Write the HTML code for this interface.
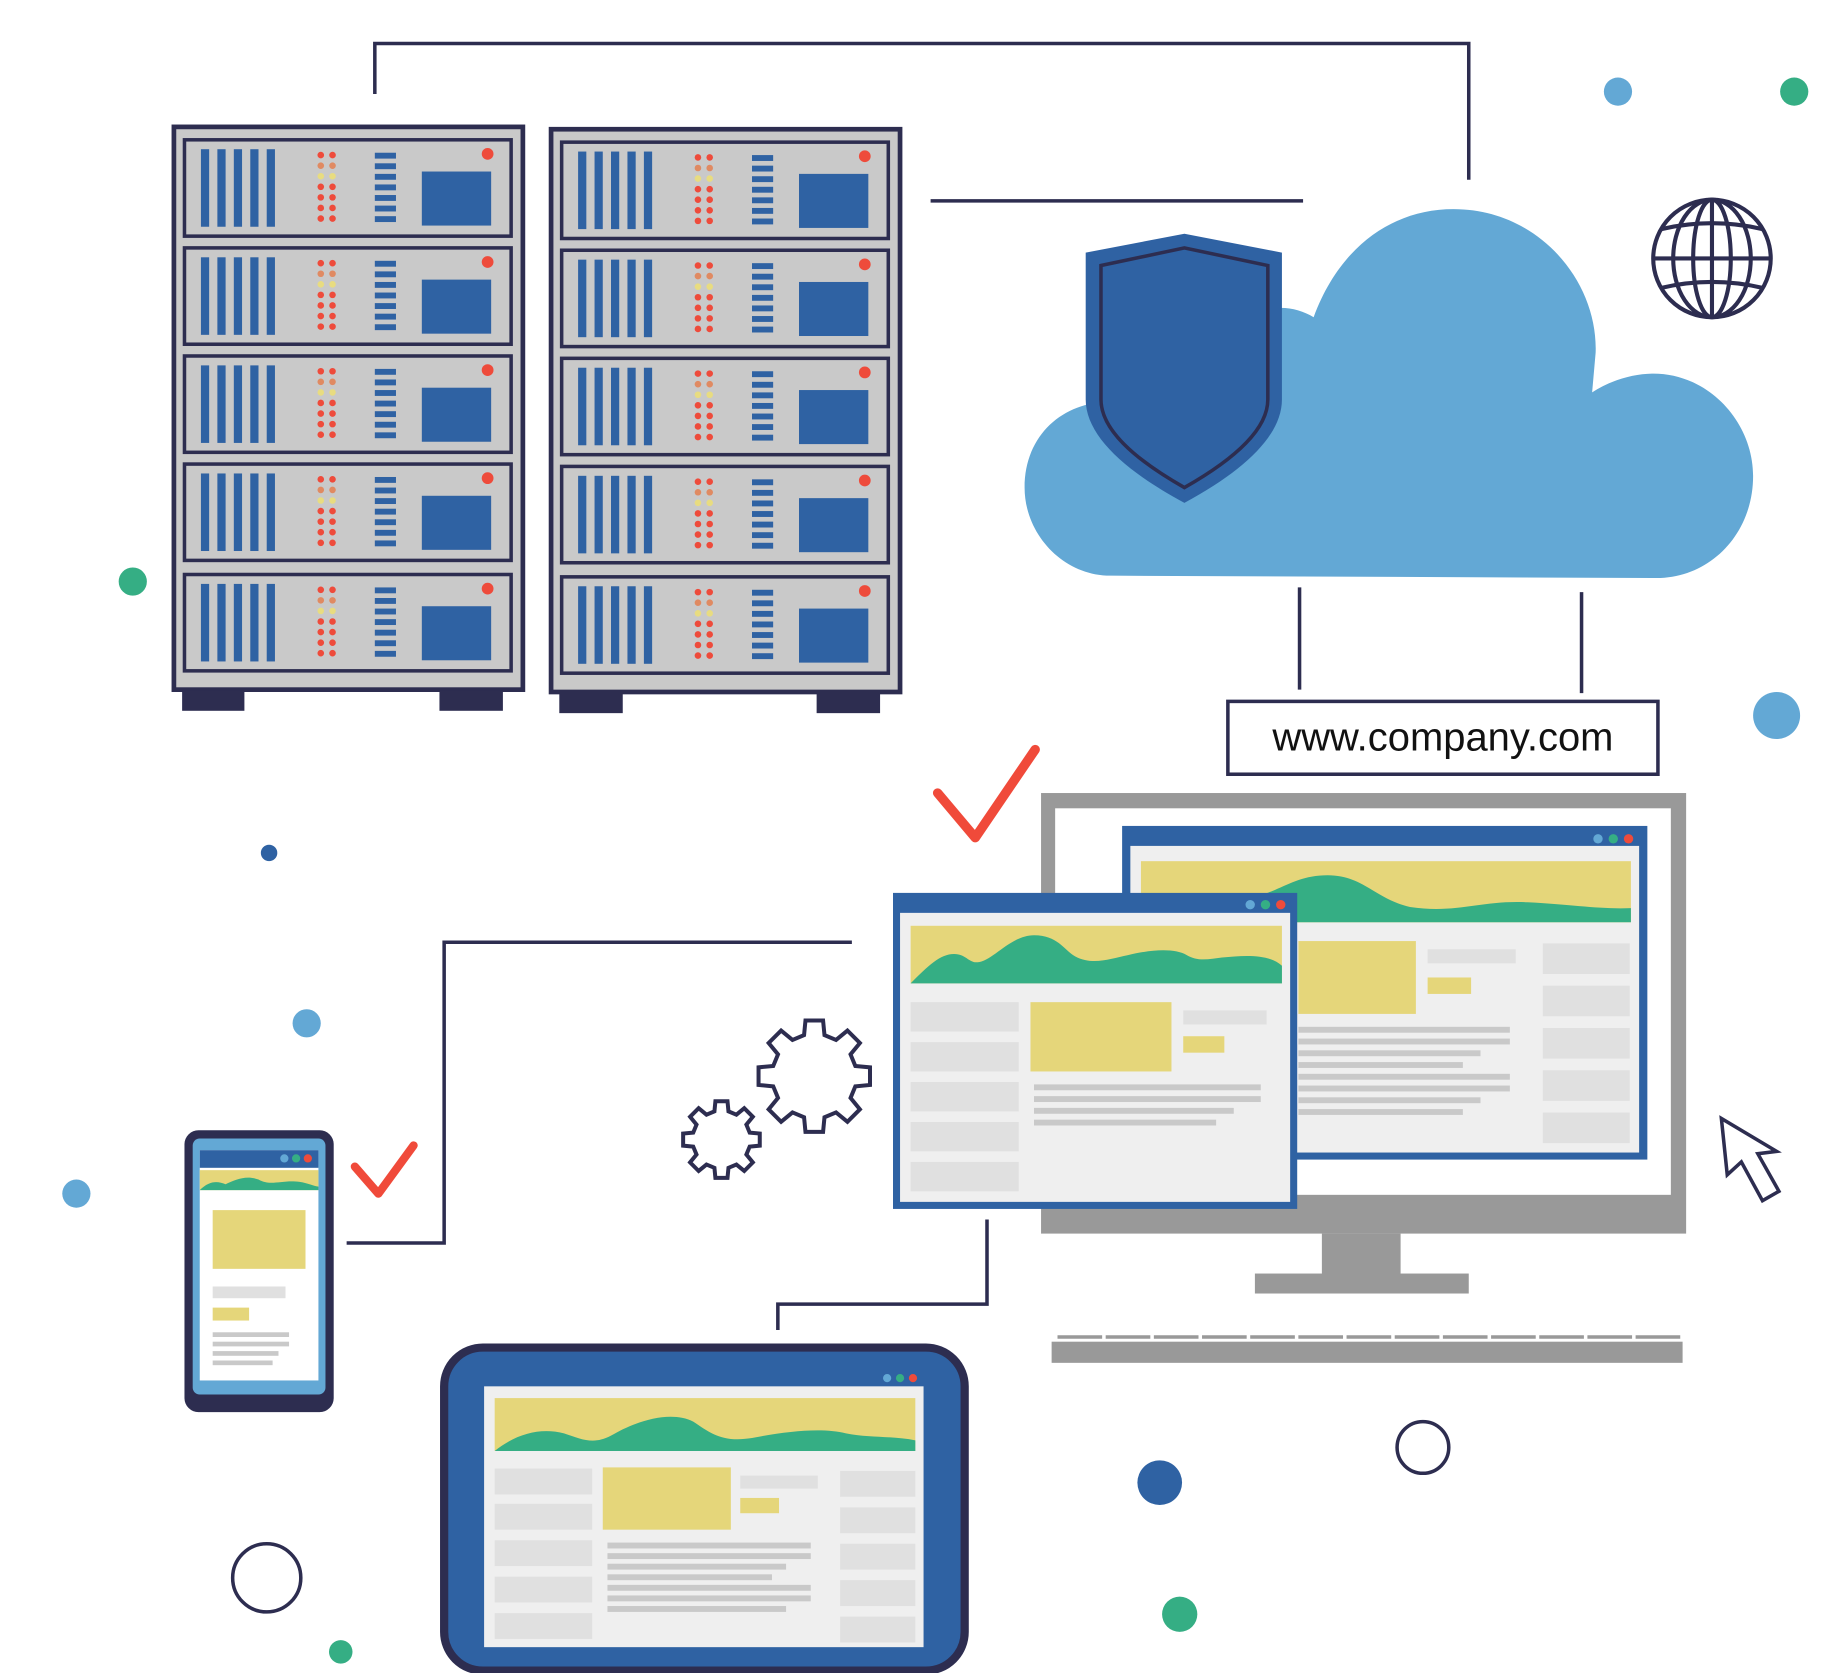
<!DOCTYPE html>
<html><head><meta charset="utf-8"><style>html,body{margin:0;padding:0;background:#fff}svg{display:block}</style></head>
<body>
<svg width="1833" height="1673" viewBox="0 0 1560 1424" preserveAspectRatio="none" xmlns="http://www.w3.org/2000/svg">
<defs>
<g id="unit">
<rect x="0" y="0" width="278" height="82" fill="#c9c9c9" stroke="#2d2d50" stroke-width="3"/>
<rect x="14" y="8" width="7" height="66" fill="#2f62a3"/><rect x="28" y="8" width="7" height="66" fill="#2f62a3"/><rect x="42" y="8" width="7" height="66" fill="#2f62a3"/><rect x="56" y="8" width="7" height="66" fill="#2f62a3"/><rect x="70" y="8" width="7" height="66" fill="#2f62a3"/>
<g fill="#ee4b3b"><circle cx="116" cy="13" r="2.8"/><circle cx="126" cy="13" r="2.8"/><circle cx="116" cy="40" r="2.8"/><circle cx="126" cy="40" r="2.8"/><circle cx="116" cy="49" r="2.8"/><circle cx="126" cy="49" r="2.8"/><circle cx="116" cy="58" r="2.8"/><circle cx="126" cy="58" r="2.8"/><circle cx="116" cy="67" r="2.8"/><circle cx="126" cy="67" r="2.8"/></g>
<g fill="#e08a62"><circle cx="116" cy="22" r="2.8"/><circle cx="126" cy="22" r="2.8"/></g>
<g fill="#e8dc80"><circle cx="116" cy="31" r="2.8"/><circle cx="126" cy="31" r="2.8"/></g>
<g fill="#2f62a3"><rect x="162" y="11" width="18" height="5"/><rect x="162" y="20" width="18" height="5"/><rect x="162" y="29" width="18" height="5"/><rect x="162" y="38" width="18" height="5"/><rect x="162" y="47" width="18" height="5"/><rect x="162" y="56" width="18" height="5"/><rect x="162" y="65" width="18" height="5"/>
<rect x="202" y="27" width="59" height="46"/></g>
<circle cx="258" cy="12" r="5" fill="#ee4b3b"/>
</g>
<polygon id="gear" points="0.728,-0.181 0.988,-0.156 0.988,0.156 0.728,0.181 0.643,0.386 0.809,0.588 0.588,0.809 0.386,0.643 0.181,0.728 0.156,0.988 -0.156,0.988 -0.181,0.728 -0.386,0.643 -0.588,0.809 -0.809,0.588 -0.643,0.386 -0.728,0.181 -0.988,0.156 -0.988,-0.156 -0.728,-0.181 -0.643,-0.386 -0.809,-0.588 -0.588,-0.809 -0.386,-0.643 -0.181,-0.728 -0.156,-0.988 0.156,-0.988 0.181,-0.728 0.386,-0.643 0.588,-0.809 0.809,-0.588 0.643,-0.386" fill="#fff" stroke="#2d2d50" stroke-width="4" vector-effect="non-scaling-stroke" stroke-linejoin="miter"/>
</defs>

<!-- connectors -->
<g fill="none" stroke="#2d2d50" stroke-width="3">
<polyline points="319,80 319,37 1250,37 1250,153"/>
<line x1="792" y1="171" x2="1109" y2="171"/>
<line x1="1106" y1="500" x2="1106" y2="587"/>
<line x1="1346" y1="504" x2="1346" y2="590"/>
<polyline points="725,802 378,802 378,1058 295,1058"/>
<polyline points="840,1038 840,1110 662,1110 662,1132"/>
</g>

<!-- servers -->
<rect x="148" y="108" width="297" height="479" fill="#c9c9c9" stroke="#2d2d50" stroke-width="4"/>
<rect x="155" y="588" width="53" height="17" fill="#2d2d50"/><rect x="374" y="588" width="54" height="17" fill="#2d2d50"/>
<use href="#unit" x="157" y="119"/><use href="#unit" x="157" y="211"/><use href="#unit" x="157" y="303"/><use href="#unit" x="157" y="395"/><use href="#unit" x="157" y="489"/>
<rect x="469" y="110" width="297" height="479" fill="#c9c9c9" stroke="#2d2d50" stroke-width="4"/>
<rect x="476" y="590" width="54" height="17" fill="#2d2d50"/><rect x="695" y="590" width="54" height="17" fill="#2d2d50"/>
<use href="#unit" x="478" y="121"/><use href="#unit" x="478" y="213"/><use href="#unit" x="478" y="305"/><use href="#unit" x="478" y="397"/><use href="#unit" x="478" y="491"/>

<!-- cloud -->
<path d="M945,490 C905,490 872,455 872,415 C872,370 905,342 945,342 L1090,342 L1090,262 C1100,262 1110,265 1118,270 C1140,210 1185,178 1237,178 C1310,178 1360,240 1358,300 L1355,334 C1370,324 1390,318 1407,318 C1455,318 1492,360 1492,405 C1492,455 1455,492 1410,492 Z" fill="#63a8d5"/>
<!-- shield -->
<path d="M924,215 L1008,199 L1091,215 L1091,340 C1091,370 1060,400 1008,428 C956,400 924,370 924,340 Z" fill="#2f62a3"/>
<path d="M937,226 L1008,211 L1079,226 L1079,340 C1079,365 1052,390 1008,415 C964,390 937,365 937,340 Z" fill="none" stroke="#2d2d50" stroke-width="3"/>
<!-- globe -->
<g fill="none" stroke="#2d2d50" stroke-width="3.5">
<ellipse cx="1457" cy="220" rx="50" ry="50"/>
<ellipse cx="1457" cy="220" rx="33" ry="50"/>
<ellipse cx="1457" cy="220" rx="16" ry="50"/>
<line x1="1457" y1="170" x2="1457" y2="270"/>
<line x1="1407" y1="220" x2="1507" y2="220"/>
<path d="M1414,195 Q1457,185 1500,195"/><path d="M1414,245 Q1457,235 1500,245"/>
</g>

<!-- dots -->
<circle cx="1377" cy="78" r="12" fill="#63a8d5"/>
<circle cx="1527" cy="78" r="12" fill="#35ae84"/>
<circle cx="113" cy="495" r="12" fill="#35ae84"/>
<circle cx="229" cy="726" r="7" fill="#2f62a3"/>
<circle cx="261" cy="871" r="12" fill="#63a8d5"/>
<circle cx="65" cy="1016" r="12" fill="#63a8d5"/>
<circle cx="1512" cy="609" r="20" fill="#63a8d5"/>
<circle cx="987" cy="1262" r="19" fill="#2f62a3"/>
<circle cx="1004" cy="1374" r="15" fill="#35ae84"/>
<circle cx="290" cy="1406" r="10" fill="#35ae84"/>
<circle cx="1211" cy="1232" r="22" fill="none" stroke="#2d2d50" stroke-width="3"/>
<circle cx="227" cy="1343" r="29" fill="none" stroke="#2d2d50" stroke-width="3"/>

<!-- url -->
<rect x="1045" y="597" width="366" height="62" fill="#fff" stroke="#2d2d50" stroke-width="3"/>
<text x="1228" y="639" text-anchor="middle" font-family="Liberation Sans, sans-serif" font-size="34" fill="#111">www.company.com</text>

<!-- monitor -->
<rect x="886" y="675" width="549" height="375" fill="#999"/>
<rect x="898" y="688" width="524" height="329" fill="#fff"/>
<rect x="1125" y="1050" width="67" height="36" fill="#999"/>
<rect x="1068" y="1084" width="182" height="17" fill="#999"/>
<rect x="895" y="1142" width="537" height="18" fill="#999"/>
<g stroke="#999" stroke-width="3"><line x1="900" y1="1138" x2="1430" y2="1138" stroke-dasharray="38,3"/></g>

<!-- back browser -->
<rect x="955" y="703" width="447" height="284" fill="#2f62a3"/>
<rect x="962" y="720" width="433" height="261" fill="#efefef"/>
<circle cx="1360" cy="714" r="4" fill="#63a8d5"/><circle cx="1373" cy="714" r="4" fill="#35ae84"/><circle cx="1386" cy="714" r="4" fill="#ee4b3b"/>
<rect x="971" y="733" width="417" height="52" fill="#e5d67a"/>
<path d="M971,770 C1000,772 1030,770 1060,765 C1090,760 1100,745 1130,745 C1160,745 1170,765 1200,772 C1240,778 1260,766 1300,768 C1340,770 1360,774 1388,773 L1388,785 L971,785 Z" fill="#35ae84"/>
<rect x="1105" y="801" width="100" height="62" fill="#e5d67a"/>
<rect x="1215" y="808" width="75" height="12" fill="#e0e0e0"/>
<rect x="1215" y="832" width="37" height="14" fill="#e5d67a"/>
<g fill="#e0e0e0"><rect x="1313" y="803" width="74" height="26"/><rect x="1313" y="839" width="74" height="26"/><rect x="1313" y="875" width="74" height="26"/><rect x="1313" y="911" width="74" height="26"/><rect x="1313" y="947" width="74" height="26"/></g>
<g fill="#c9c9c9"><rect x="1105" y="874" width="180" height="5"/><rect x="1105" y="884" width="180" height="5"/><rect x="1105" y="894" width="155" height="5"/><rect x="1105" y="904" width="140" height="5"/><rect x="1105" y="914" width="180" height="5"/><rect x="1105" y="924" width="180" height="5"/><rect x="1105" y="934" width="155" height="5"/><rect x="1105" y="944" width="140" height="5"/></g>

<!-- front browser -->
<rect x="760" y="760" width="344" height="269" fill="#2f62a3"/>
<rect x="766" y="777" width="332" height="246" fill="#efefef"/>
<circle cx="1064" cy="770" r="4" fill="#63a8d5"/><circle cx="1077" cy="770" r="4" fill="#35ae84"/><circle cx="1090" cy="770" r="4" fill="#ee4b3b"/>
<rect x="775" y="788" width="316" height="49" fill="#e5d67a"/>
<path d="M775,837 C790,822 800,812 812,812 C822,812 825,820 832,819 C845,818 860,796 880,796 C900,796 905,808 915,814 C930,822 945,816 960,813 C980,808 1000,807 1010,813 C1020,819 1030,816 1040,815 C1060,813 1080,812 1091,822 L1091,837 Z" fill="#35ae84"/>
<g fill="#e0e0e0"><rect x="775" y="853" width="92" height="25"/><rect x="775" y="887" width="92" height="25"/><rect x="775" y="921" width="92" height="25"/><rect x="775" y="955" width="92" height="25"/><rect x="775" y="989" width="92" height="25"/><rect x="1007" y="860" width="71" height="12"/></g>
<rect x="877" y="853" width="120" height="59" fill="#e5d67a"/>
<rect x="1007" y="882" width="35" height="14" fill="#e5d67a"/>
<g fill="#c9c9c9"><rect x="880" y="923" width="193" height="5"/><rect x="880" y="933" width="193" height="5"/><rect x="880" y="943" width="170" height="5"/><rect x="880" y="953" width="155" height="5"/></g>

<!-- gears -->
<use href="#gear" transform="translate(693,916) scale(48)"/>
<use href="#gear" transform="translate(614,970) scale(33)"/>

<!-- checks -->
<polyline points="798,675 830,713 881,638" fill="none" stroke="#f04a3a" stroke-width="8" stroke-linecap="round" stroke-linejoin="round"/>
<polyline points="302,993 322,1016 352,975" fill="none" stroke="#f04a3a" stroke-width="7" stroke-linecap="round" stroke-linejoin="round"/>

<!-- cursor -->
<polygon points="1465,952 1470,1000 1482,989 1500,1022 1514,1014 1496,982 1512,980" fill="#fff" stroke="#2d2d50" stroke-width="3" stroke-linejoin="miter"/>

<!-- phone -->
<rect x="157" y="962" width="127" height="240" rx="12" fill="#2d2d50"/>
<rect x="164" y="969" width="113" height="218" rx="6" fill="#63a8d5"/>
<rect x="170" y="979" width="101" height="196" fill="#fff"/>
<rect x="170" y="979" width="101" height="15" fill="#2f62a3"/>
<circle cx="242" cy="986" r="3.5" fill="#63a8d5"/><circle cx="252" cy="986" r="3.5" fill="#35ae84"/><circle cx="262" cy="986" r="3.5" fill="#ee4b3b"/>
<rect x="170" y="996" width="101" height="17" fill="#e5d67a"/>
<path d="M170,1013 C178,1005 185,1005 192,1008 C200,1004 210,1000 220,1004 C230,1010 240,1004 255,1006 C262,1007 268,1010 271,1010 L271,1013 Z" fill="#35ae84"/>
<rect x="181" y="1030" width="79" height="50" fill="#e5d67a"/>
<rect x="181" y="1095" width="62" height="10" fill="#e0e0e0"/>
<rect x="181" y="1113" width="31" height="11" fill="#e5d67a"/>
<g fill="#c9c9c9"><rect x="181" y="1134" width="65" height="4"/><rect x="181" y="1142" width="65" height="4"/><rect x="181" y="1150" width="56" height="4"/><rect x="181" y="1158" width="51" height="4"/></g>

<!-- tablet -->
<rect x="378" y="1147" width="443" height="275" rx="33" fill="#2f62a3" stroke="#2d2d50" stroke-width="7"/>
<rect x="412" y="1180" width="374" height="222" fill="#efefef"/>
<circle cx="755" cy="1173" r="3.5" fill="#63a8d5"/><circle cx="766" cy="1173" r="3.5" fill="#35ae84"/><circle cx="777" cy="1173" r="3.5" fill="#ee4b3b"/>
<rect x="421" y="1190" width="358" height="45" fill="#e5d67a"/>
<path d="M421,1235 C440,1220 460,1215 480,1220 C495,1225 505,1230 520,1222 C540,1210 570,1200 590,1210 C605,1220 615,1228 640,1224 C670,1218 700,1215 720,1220 C740,1224 760,1222 779,1226 L779,1235 Z" fill="#35ae84"/>
<g fill="#e0e0e0"><rect x="421" y="1250" width="83" height="22"/><rect x="421" y="1280" width="83" height="22"/><rect x="421" y="1311" width="83" height="22"/><rect x="421" y="1342" width="83" height="22"/><rect x="421" y="1373" width="83" height="22"/>
<rect x="715" y="1252" width="64" height="22"/><rect x="715" y="1283" width="64" height="22"/><rect x="715" y="1314" width="64" height="22"/><rect x="715" y="1345" width="64" height="22"/><rect x="715" y="1376" width="64" height="22"/>
<rect x="630" y="1256" width="66" height="11"/></g>
<rect x="513" y="1249" width="109" height="53" fill="#e5d67a"/>
<rect x="630" y="1275" width="33" height="13" fill="#e5d67a"/>
<g fill="#c9c9c9"><rect x="517" y="1313" width="173" height="5"/><rect x="517" y="1322" width="173" height="5"/><rect x="517" y="1331" width="152" height="5"/><rect x="517" y="1340" width="140" height="5"/><rect x="517" y="1349" width="173" height="5"/><rect x="517" y="1358" width="173" height="5"/><rect x="517" y="1367" width="152" height="5"/></g>
</svg>
</body></html>
